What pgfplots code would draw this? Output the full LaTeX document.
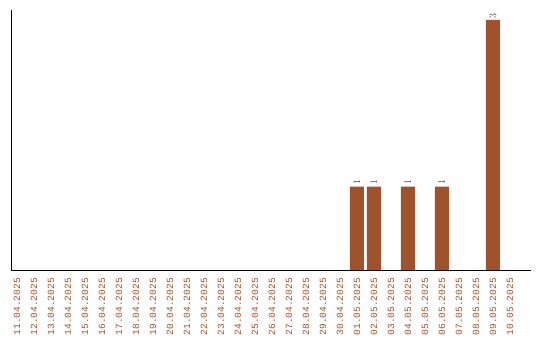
\documentclass[border=0pt]{standalone}
\usepackage{fontspec}
\setmainfont{Liberation Mono}
\usepackage{pgfplots}
\pgfplotsset{compat=1.18}
\definecolor{barbrown}{HTML}{A0522D}
\definecolor{valgray}{HTML}{5A4A40}
\begin{document}
\begin{tikzpicture}
\path[use as bounding box] (-11bp,-70bp) rectangle (529bp,270bp);
\begin{axis}[
  at={(0,0)}, anchor=south west,
  scale only axis, width=520bp, height=260bp,
  xmin=-0.353, xmax=30.24, ymin=0, ymax=3.12,
  axis x line=bottom, axis y line=left,
  axis line style={-, black, line width=0.9bp},
  ytick=\empty,
  xtick={0,...,29},
  xticklabels={11.04.2025,12.04.2025,13.04.2025,14.04.2025,15.04.2025,16.04.2025,17.04.2025,18.04.2025,19.04.2025,20.04.2025,21.04.2025,22.04.2025,23.04.2025,24.04.2025,25.04.2025,26.04.2025,27.04.2025,28.04.2025,29.04.2025,30.04.2025,01.05.2025,02.05.2025,03.05.2025,04.05.2025,05.05.2025,06.05.2025,07.05.2025,08.05.2025,09.05.2025,10.05.2025},
  major tick length=0pt,
  xticklabel style={rotate=90, anchor=east, font=\fontsize{9.5bp}{10bp}\selectfont, text=barbrown, inner sep=0pt},
  xtick style={draw=none},
  xticklabel shift=8bp,
  nodes near coords,
  every node near coord/.append style={rotate=90, anchor=west, font=\fontsize{9.5bp}{10bp}\selectfont, text=valgray, inner sep=1.5bp},
  clip=false,
]
\addplot[ybar, bar width=14bp, fill=barbrown, draw=none] coordinates {
  (20,1) (21,1) (23,1) (25,1) (28,3)
};
\end{axis}
\end{tikzpicture}
\end{document}
